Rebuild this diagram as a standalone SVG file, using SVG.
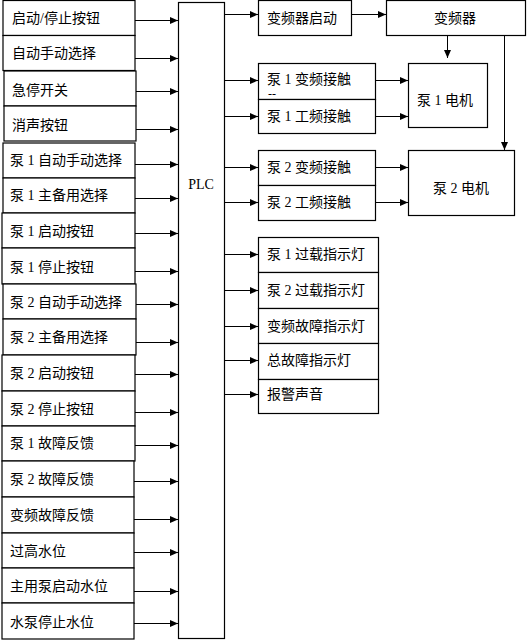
<svg xmlns="http://www.w3.org/2000/svg" width="527" height="640" viewBox="0 0 527 640">
<defs>
<marker id="ah" markerUnits="userSpaceOnUse" markerWidth="9" markerHeight="8" refX="8" refY="4" orient="auto">
<path d="M0,0.5 L8,4 L0,7.5 z" fill="#000"/>
</marker>
<style>
rect{fill:#fff;stroke:#000;stroke-width:1.2}
text{font-family:"Liberation Serif","Noto Sans CJK SC",serif;font-size:14px;fill:#000}
.c line{stroke:#000;stroke-width:1;marker-end:url(#ah)}
.m{text-anchor:middle}
</style>
</defs>
<rect x="0" y="0" width="527" height="640" style="stroke:none"/>
<g id="inputs">
<g id="in1"><rect x="3" y="0.5" width="132" height="35"/><text x="12" y="23">启动/停止按钮</text></g>
<g id="in2"><rect x="3" y="35.5" width="132" height="35"/><text x="12" y="58">自动手动选择</text></g>
<g id="in3"><rect x="4" y="71" width="132" height="35"/><text x="12" y="95">急停开关</text></g>
<g id="in4"><rect x="4" y="106" width="132" height="35"/><text x="12" y="130">消声按钮</text></g>
<g id="in5"><rect x="3" y="143" width="132" height="35"/><text x="10" y="165">泵 1 自动手动选择</text></g>
<g id="in6"><rect x="3" y="178" width="132" height="35"/><text x="10" y="200">泵 1 主备用选择</text></g>
<g id="in7"><rect x="2" y="213" width="133" height="35"/><text x="10" y="236">泵 1 启动按钮</text></g>
<g id="in8"><rect x="2" y="248" width="133" height="36"/><text x="10" y="272">泵 1 停止按钮</text></g>
<g id="in9"><rect x="3" y="284" width="133" height="35"/><text x="10" y="307">泵 2 自动手动选择</text></g>
<g id="in10"><rect x="3" y="319" width="133" height="36"/><text x="10" y="342">泵 2 主备用选择</text></g>
<g id="in11"><rect x="2" y="355" width="133" height="36"/><text x="10" y="378">泵 2 启动按钮</text></g>
<g id="in12"><rect x="2" y="391" width="133" height="35"/><text x="10" y="414">泵 2 停止按钮</text></g>
<g id="in13"><rect x="2" y="426" width="133" height="35"/><text x="10" y="448">泵 1 故障反馈</text></g>
<g id="in14"><rect x="2" y="461" width="132" height="36"/><text x="10" y="484">泵 2 故障反馈</text></g>
<g id="in15"><rect x="2" y="497" width="132" height="36"/><text x="10" y="520">变频故障反馈</text></g>
<g id="in16"><rect x="2" y="533" width="132" height="35"/><text x="10" y="556">过高水位</text></g>
<g id="in17"><rect x="2" y="568" width="132" height="35"/><text x="10" y="591">主用泵启动水位</text></g>
<g id="in18"><rect x="2" y="603" width="132" height="36"/><text x="10" y="627">水泵停止水位</text></g>
</g>
<g id="plc"><rect x="178.5" y="2.5" width="46" height="636"/><text x="201" y="189" class="m">PLC</text></g>
<g id="vfd-start"><rect x="258.5" y="0.5" width="93" height="35"/><text x="267" y="23">变频器启动</text></g>
<g id="vfd"><rect x="386.5" y="0.5" width="139" height="35"/><text x="455" y="23" class="m">变频器</text></g>
<g id="p1vf"><rect x="258.5" y="63.5" width="117" height="36"/><text x="267" y="84">泵 1 变频接触</text><text x="268" y="98" style="font-size:12px">--</text></g>
<g id="p1pf"><rect x="258.5" y="99.5" width="117" height="34"/><text x="267" y="121">泵 1 工频接触</text></g>
<g id="p1m"><rect x="408.5" y="63.5" width="79" height="64"/><text x="417" y="105">泵 1 电机</text></g>
<g id="p2vf"><rect x="258.5" y="150.5" width="117" height="35"/><text x="267" y="172">泵 2 变频接触</text></g>
<g id="p2pf"><rect x="258.5" y="185.5" width="117" height="35"/><text x="267" y="207">泵 2 工频接触</text></g>
<g id="p2m"><rect x="408.5" y="150.5" width="106" height="65"/><text x="461" y="193" class="m">泵 2 电机</text></g>
<g id="l1"><rect x="258.5" y="237.5" width="120" height="35"/><text x="267" y="259">泵 1 过载指示灯</text></g>
<g id="l2"><rect x="258.5" y="272.5" width="120" height="36"/><text x="267" y="295">泵 2 过载指示灯</text></g>
<g id="l3"><rect x="258.5" y="308.5" width="120" height="35"/><text x="267" y="331">变频故障指示灯</text></g>
<g id="l4"><rect x="258.5" y="343.5" width="120" height="36"/><text x="267" y="365">总故障指示灯</text></g>
<g id="l5"><rect x="258.5" y="379.5" width="120" height="34"/><text x="267" y="399">报警声音</text></g>
<g class="c" id="connectors">
<line x1="135" y1="20.5" x2="178" y2="20.5"/>
<line x1="135" y1="58.5" x2="178" y2="58.5"/>
<line x1="136" y1="91.5" x2="178" y2="91.5"/>
<line x1="136" y1="129.5" x2="178" y2="129.5"/>
<line x1="135" y1="164.5" x2="178" y2="164.5"/>
<line x1="135" y1="198.5" x2="178" y2="198.5"/>
<line x1="135" y1="233.5" x2="178" y2="233.5"/>
<line x1="135" y1="271.5" x2="178" y2="271.5"/>
<line x1="136" y1="304.5" x2="178" y2="304.5"/>
<line x1="136" y1="342.5" x2="178" y2="342.5"/>
<line x1="135" y1="374.5" x2="178" y2="374.5"/>
<line x1="135" y1="412.5" x2="178" y2="412.5"/>
<line x1="135" y1="445.5" x2="178" y2="445.5"/>
<line x1="134" y1="481.5" x2="178" y2="481.5"/>
<line x1="134" y1="519.5" x2="178" y2="519.5"/>
<line x1="134" y1="552.5" x2="178" y2="552.5"/>
<line x1="134" y1="591.5" x2="178" y2="591.5"/>
<line x1="134" y1="623.5" x2="178" y2="623.5"/>
<line x1="224" y1="14.5" x2="258" y2="14.5"/>
<line x1="224" y1="80.5" x2="258" y2="80.5"/>
<line x1="224" y1="116.5" x2="258" y2="116.5"/>
<line x1="225" y1="167.5" x2="258" y2="167.5"/>
<line x1="225" y1="202.5" x2="258" y2="202.5"/>
<line x1="224" y1="254.5" x2="258" y2="254.5"/>
<line x1="224" y1="290.5" x2="258" y2="290.5"/>
<line x1="224" y1="326.5" x2="258" y2="326.5"/>
<line x1="224" y1="360.5" x2="258" y2="360.5"/>
<line x1="224" y1="394.5" x2="258" y2="394.5"/>
<line x1="352" y1="14.5" x2="386" y2="14.5"/>
<line x1="375" y1="80.5" x2="408" y2="80.5"/>
<line x1="375" y1="116.5" x2="408" y2="116.5"/>
<line x1="375" y1="167.5" x2="408" y2="167.5"/>
<line x1="375" y1="202.5" x2="408" y2="202.5"/>
<line x1="447.5" y1="36" x2="447.5" y2="58"/>
<line x1="504.5" y1="36" x2="504.5" y2="150"/>
</g>
</svg>
